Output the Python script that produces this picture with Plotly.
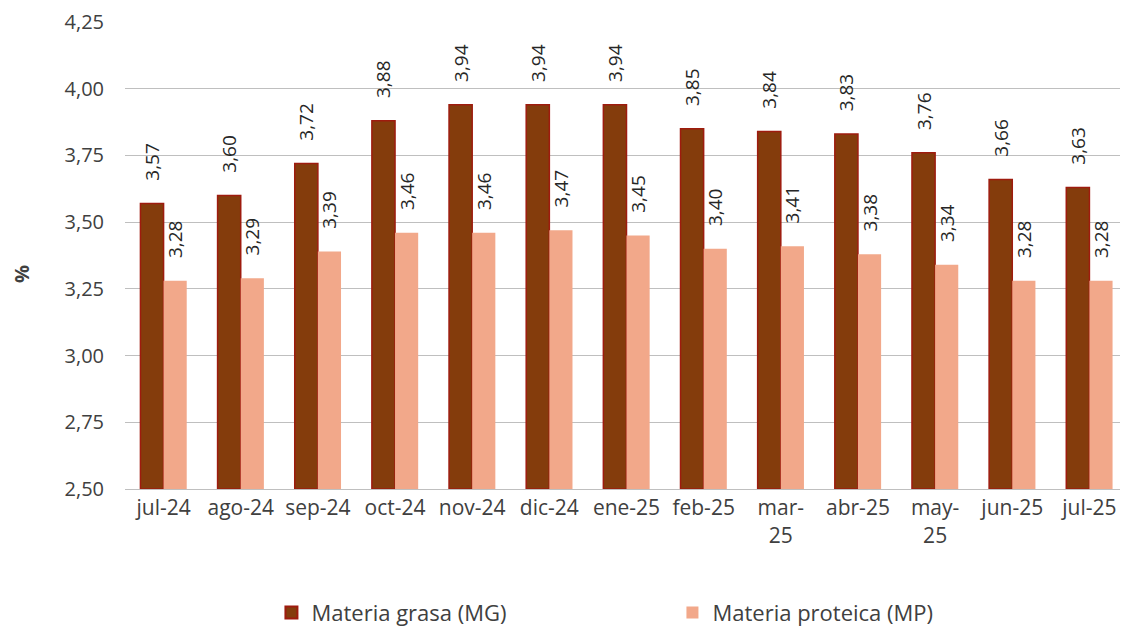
import plotly.graph_objects as go

categories = ["jul-24", "ago-24", "sep-24", "oct-24", "nov-24", "dic-24", "ene-25",
              "feb-25", "mar-25", "abr-25", "may-25", "jun-25", "jul-25"]
tick_labels = ["jul-24", "ago-24", "sep-24", "oct-24", "nov-24", "dic-24", "ene-25",
               "feb-25", "mar-<br>25", "abr-25", "may-<br>25", "jun-25", "jul-25"]
mg_values = [3.57, 3.60, 3.72, 3.88, 3.94, 3.94, 3.94, 3.85, 3.84, 3.83, 3.76, 3.66, 3.63]
mp_values = [3.28, 3.29, 3.39, 3.46, 3.46, 3.47, 3.45, 3.40, 3.41, 3.38, 3.34, 3.28, 3.28]
y_ticks = [2.50, 2.75, 3.00, 3.25, 3.50, 3.75, 4.00, 4.25]

FONT = "Open Sans, Calibri, Carlito, sans-serif"
TXT = "#404040"


def lbl(v):
    return "\u00a0\u00a0\u00a0\u00a0" + f"{v:.2f}".replace(".", ",")


fig = go.Figure()
fig.add_trace(go.Bar(
    x=categories, y=[v - 2.5 for v in mg_values], base=2.5, name="Materia grasa (MG)",
    marker=dict(color="#843C0C", line=dict(color="#9E1B0E", width=1.5)),
    text=[lbl(v) for v in mg_values],
    textposition="outside", textangle=-90, cliponaxis=False, constraintext="none",
    textfont=dict(size=19, color="#262626", family=FONT),
))
fig.add_trace(go.Bar(
    x=categories, y=[v - 2.5 for v in mp_values], base=2.5, name="Materia proteica (MP)",
    marker=dict(color="#F2A88A", line=dict(width=0)),
    text=[lbl(v) for v in mp_values],
    textposition="outside", textangle=-90, cliponaxis=False, constraintext="none",
    textfont=dict(size=19, color="#262626", family=FONT),
))

fig.add_annotation(text="<b>%</b>", xref="paper", yref="paper",
                   x=(13 - 117) / 1003, y=(481 - 266) / 467, xanchor="center", yanchor="middle",
                   textangle=-90, showarrow=False, font=dict(size=20, color=TXT, family=FONT))

fig.update_layout(
    width=1128, height=632,
    margin=dict(l=117, r=8, t=14, b=151, autoexpand=False),
    plot_bgcolor="white", paper_bgcolor="white",
    barmode="group", bargap=0.4, bargroupgap=0,
    separators=",.",
    font=dict(family=FONT, size=18, color=TXT),
    showlegend=True,
    legend=dict(orientation="h", x=0.146, xanchor="left", y=-0.265, yanchor="middle",
                font=dict(size=22, color=TXT), entrywidth=356, entrywidthmode="pixels",
                itemsizing="constant"),
    xaxis=dict(tickmode="array", tickvals=categories, ticktext=tick_labels,
               showgrid=False, showline=True, linecolor="#BFBFBF", linewidth=1,
               ticks="", tickfont=dict(size=21, color=TXT), automargin=False),
    yaxis=dict(range=[2.5, 4.25], tickmode="array", tickvals=y_ticks,
               ticktext=[f"{v:.2f}".replace(".", ",") for v in y_ticks],
               showgrid=True, gridcolor="#BFBFBF", gridwidth=1, zeroline=False,
               showline=False, ticks="", ticklen=0, tickfont=dict(size=20, color=TXT),
               ticklabelstandoff=20, automargin=False),
)

fig.write_html("out.html")
